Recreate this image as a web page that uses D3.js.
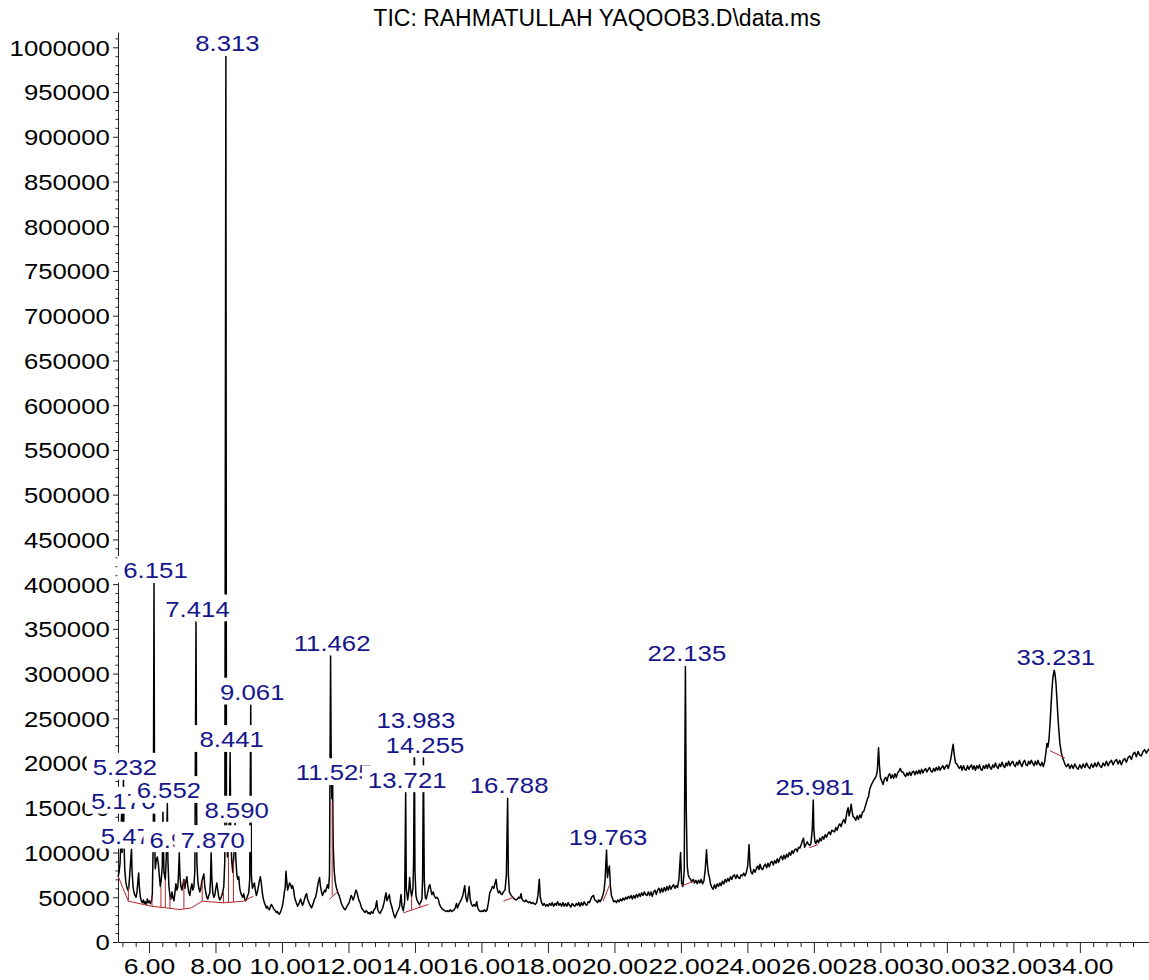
<!DOCTYPE html>
<html>
<head>
<meta charset="utf-8">
<script src="https://cdn.jsdelivr.net/npm/d3@7"></script>
<style>
  html, body { margin: 0; padding: 0; background: #fff; }
  svg { display: block; }
  text { font-family: "Liberation Sans", Arial, Helvetica, sans-serif; }
</style>
</head>
<body>
<svg id="chart" width="1149" height="980"></svg>
<script>
// ---- Chromatogram data (retention time in minutes, abundance in counts) ----
const chartTitle = "TIC: RAHMATULLAH YAQOOB3.D\\data.ms";

const traceEarly = [
  [5.07,73000],[5.10,78000],[5.13,88000],[5.15,110000],[5.176,143000],[5.19,100000],[5.21,120000],[5.232,181000],
  [5.25,110000],[5.27,82000],[5.30,68000],[5.33,62000],[5.36,58000],[5.39,60000],[5.42,75000],[5.45,92000],
  [5.474,104000],[5.49,80000],[5.52,62000],[5.55,55000],[5.58,52000],[5.61,50000],[5.64,56000],[5.67,70000],
  [5.69,77000],[5.71,62000],[5.74,50000],[5.77,46000],[5.80,44000],[5.83,47000],[5.86,43000],[5.89,45000],
  [5.92,42000],[5.95,48000],[5.98,44000],[6.01,46000],[6.04,43000],[6.07,45000],[6.10,52000],[6.13,120000],
  [6.151,401000],[6.17,110000],[6.19,82000],[6.22,92000],[6.25,95000],[6.28,88000],[6.31,75000],[6.34,62000],
  [6.37,70000],[6.40,85000],[6.42,145000],[6.45,78000],[6.49,70000],[6.52,95000],[6.552,155000],[6.57,90000],
  [6.60,62000],[6.63,52000],[6.66,48000],[6.69,56000],[6.72,50000],[6.75,46000],[6.78,55000],[6.81,65000],
  [6.84,58000],[6.87,62000],[6.89,78000],[6.911,100000],[6.93,75000],[6.96,62000],[6.99,58000],[7.02,64000],
  [7.05,70000],[7.08,60000],[7.11,68000],[7.14,73000],[7.17,62000],[7.20,55000],[7.23,52000],[7.26,60000],
  [7.29,65000],[7.32,58000],[7.35,62000],[7.38,80000],[7.414,358000],[7.44,90000],[7.47,68000],[7.50,60000],
  [7.53,56000],[7.56,60000],[7.59,68000],[7.62,72000],[7.65,76000],[7.68,62000],[7.71,55000],[7.74,50000],
  [7.77,48000],[7.80,52000],[7.83,55000],[7.85,70000],[7.870,100000],[7.89,72000],[7.92,55000],[7.95,50000],
  [7.98,52000],[8.01,60000],[8.04,66000],[8.07,58000],[8.10,50000],[8.13,47000],[8.16,49000],[8.19,52000],
  [8.22,56000],[8.25,62000],[8.28,90000],[8.313,990000],[8.33,140000],[8.36,95000],[8.39,110000],[8.42,140000],
  [8.441,212000],[8.46,120000],[8.49,90000],[8.52,78000],[8.55,95000],[8.57,110000],[8.590,133000],[8.61,95000],
  [8.64,76000],[8.67,70000],[8.70,73000],[8.73,60000],[8.76,55000],[8.79,52000],[8.82,50000],[8.85,54000],
  [8.88,48000],[8.91,46000],[8.94,49000],[8.97,52000],[9.00,55000],[9.03,70000],[9.061,265000],[9.08,75000],
  [9.11,60000],[9.14,63000],[9.17,66000],[9.20,58000],[9.23,52000],[9.26,56000],[9.29,62000],[9.32,68000],
  [9.35,73000],[9.38,65000],[9.41,55000],[9.44,48000],[9.47,44000],[9.50,41000],[9.53,38000],[9.56,40000],
  [9.59,37000],[9.62,36000],[9.65,39000],[9.68,42000],[9.71,40000],[9.74,38000],[9.77,36000],[9.80,35000],
  [9.83,33000],[9.86,34000],[9.89,32000],[9.92,31000],[9.95,33000],[9.98,36000],[10.01,40000],[10.04,46000],
  [10.07,55000],[10.10,62000],[10.12,79000],[10.14,70000],[10.17,58000],[10.20,62000],[10.23,66000],[10.26,64000],
  [10.29,60000],[10.32,63000],[10.35,58000],[10.38,50000],[10.41,46000],[10.44,43000],[10.47,40000],[10.50,42000],
  [10.53,45000],[10.56,48000],[10.59,44000],[10.62,41000],[10.65,44000],[10.68,48000],[10.71,52000],[10.74,54000],
  [10.77,48000],[10.80,45000],[10.83,42000],[10.86,40000],[10.89,38000],[10.92,41000],[10.95,44000],[10.98,48000],
  [11.01,50000],[11.04,55000],[11.07,62000],[11.10,68000],[11.13,72000],[11.16,62000],[11.19,56000],[11.22,52000],
  [11.25,55000],[11.28,58000],[11.31,56000],[11.34,60000],[11.37,64000],[11.40,60000],[11.43,75000],[11.462,320000],
  [11.48,210000],[11.50,160000],[11.525,175000],[11.54,110000],[11.57,80000],[11.60,68000],[11.63,62000],[11.66,58000],
  [11.69,54000],[11.72,52000],[11.75,48000],[11.78,44000],[11.81,41000],[11.84,39000],[11.87,37000],[11.90,36000],
  [11.93,38000],[11.96,40000],[11.99,42000],[12.02,44000],[12.05,48000],[12.08,52000],[12.11,50000],[12.14,47000],
  [12.17,50000],[12.20,55000],[12.23,58000],[12.26,55000],[12.29,50000],[12.32,46000],[12.35,44000],[12.38,40000],
  [12.41,37000],[12.44,36000],[12.47,34000],[12.50,33000],[12.53,35000],[12.56,34000],[12.59,32000],[12.62,33000]
];

const traceMid = [
  [12.65,31000],[12.69,34000],[12.73,32000],[12.77,36000],[12.81,38000],[12.85,46000],[12.88,36000],[12.92,33000],
  [12.95,32000],[12.99,35000],[13.03,38000],[13.07,44000],[13.10,50000],[13.13,55000],[13.16,46000],[13.20,50000],
  [13.23,53000],[13.26,45000],[13.30,40000],[13.34,34000],[13.37,30000],[13.40,27000],[13.43,30000],[13.47,34000],
  [13.50,36000],[13.54,40000],[13.58,53000],[13.61,40000],[13.65,35000],[13.69,45000],[13.721,167000],[13.74,60000],
  [13.78,47000],[13.81,55000],[13.84,72000],[13.87,58000],[13.90,51000],[13.94,60000],[13.96,90000],[13.983,234000],
  [14.00,80000],[14.03,52000],[14.06,47000],[14.10,44000],[14.13,42000],[14.17,44000],[14.21,48000],[14.23,70000],
  [14.255,206000],[14.28,70000],[14.31,50000],[14.34,48000],[14.38,55000],[14.42,62000],[14.45,64000],[14.48,58000],
  [14.51,53000],[14.55,56000],[14.58,52000],[14.62,49000],[14.66,50000],[14.70,48000],[14.74,42000],[14.78,39000],
  [14.82,37000],[14.86,36000],[14.90,35000],[14.94,34000],[14.98,35000],[15.02,34000],[15.06,36000],[15.10,34000],
  [15.14,35000],[15.18,36000],[15.21,38000],[15.25,43000],[15.28,38000],[15.32,42000],[15.36,45000],[15.40,48000],
  [15.44,52000],[15.47,58000],[15.50,63000],[15.53,50000],[15.57,45000],[15.60,52000],[15.63,62000],[15.66,48000],
  [15.70,42000],[15.74,40000],[15.78,42000],[15.82,40000],[15.86,45000],[15.89,38000],[15.93,35000],[15.97,34000],
  [16.01,35000],[16.05,34000],[16.09,36000],[16.13,34000],[16.17,36000],[16.21,44000],[16.25,55000],[16.29,58000],
  [16.33,62000],[16.37,60000],[16.41,66000],[16.44,70000],[16.47,60000],[16.51,55000],[16.55,57000],[16.58,54000],
  [16.62,53000],[16.66,56000],[16.71,58000],[16.75,75000],[16.788,161000],[16.81,75000],[16.84,56000],[16.88,53000],
  [16.92,51000],[16.96,49000],[17.00,48000],[17.04,47000],[17.08,48000],[17.12,50000],[17.16,49000],[17.19,54000],
  [17.22,48000],[17.26,46000],[17.30,45000],[17.34,47000],[17.38,45000],[17.42,44000],[17.46,45000],[17.50,43000],
  [17.54,44000],[17.58,43000],[17.62,42000],[17.66,44000],[17.70,52000],[17.74,70000],[17.77,50000],[17.81,44000],
  [17.85,41000],[17.89,43000],[17.93,40000],[17.97,42000],[18.01,40000],[18.05,43000],[18.09,41000],[18.13,44000],
  [18.17,40000],[18.21,43000],[18.25,41000],[18.29,45000],[18.33,41000],[18.37,43000],[18.41,40000],[18.45,44000],
  [18.49,40000],[18.53,43000],[18.57,40000],[18.61,44000],[18.65,41000],[18.69,39000],[18.73,43000],[18.77,41000],
  [18.81,40000],[18.85,43000],[18.89,41000],[18.93,44000],[18.97,40000],[19.01,44000],[19.05,41000],[19.09,45000],
  [19.13,42000],[19.17,41000],[19.21,45000],[19.25,44000],[19.29,48000],[19.33,51000],[19.37,52000],[19.41,47000],
  [19.45,46000],[19.49,44000],[19.53,47000],[19.57,45000],[19.61,48000],[19.65,52000],[19.69,58000],[19.72,70000],
  [19.763,103000],[19.79,72000],[19.82,80000],[19.85,85000],[19.88,62000],[19.91,52000],[19.94,49000],[19.98,45000],
  [20.02,46000],[20.06,44000],[20.10,47000],[20.14,45000],[20.18,48000],[20.22,46000],[20.26,49000],[20.30,47000],
  [20.34,50000],[20.38,48000],[20.42,51000],[20.46,49000],[20.50,52000],[20.54,48000],[20.58,52000],[20.62,49000],
  [20.66,53000],[20.70,50000],[20.74,54000],[20.78,51000],[20.82,55000],[20.86,52000],[20.90,56000],[20.94,53000],
  [20.98,52000],[21.02,56000]
];

const traceLate = [
  [21.06,52000],[21.10,56000],[21.14,51000],[21.18,56000],[21.22,58000],[21.26,53000],[21.30,58000],[21.34,60000],
  [21.38,55000],[21.42,60000],[21.46,56000],[21.50,61000],[21.54,57000],[21.58,62000],[21.62,58000],[21.66,63000],
  [21.70,59000],[21.74,62000],[21.78,64000],[21.82,60000],[21.86,63000],[21.90,61000],[21.94,70000],[21.99,100000],
  [22.02,66000],[22.06,62000],[22.10,80000],[22.135,308000],[22.16,150000],[22.19,85000],[22.22,75000],[22.25,72000],
  [22.29,70000],[22.33,67000],[22.37,70000],[22.41,66000],[22.45,69000],[22.49,65000],[22.53,69000],[22.57,66000],
  [22.61,70000],[22.65,65000],[22.69,68000],[22.73,80000],[22.77,103000],[22.80,85000],[22.83,76000],[22.86,72000],
  [22.89,65000],[22.93,61000],[22.97,59000],[23.01,64000],[23.05,60000],[23.09,65000],[23.13,62000],[23.17,66000],
  [23.21,63000],[23.25,68000],[23.29,65000],[23.33,70000],[23.37,67000],[23.41,71000],[23.45,68000],[23.49,73000],
  [23.53,70000],[23.57,74000],[23.61,75000],[23.65,71000],[23.69,75000],[23.73,72000],[23.77,71000],[23.81,75000],
  [23.85,74000],[23.89,77000],[23.93,74000],[23.97,78000],[24.01,85000],[24.05,109000],[24.08,85000],[24.11,78000],
  [24.15,76000],[24.19,81000],[24.23,78000],[24.27,82000],[24.31,85000],[24.35,81000],[24.38,87000],[24.42,82000],
  [24.46,81000],[24.50,85000],[24.54,87000],[24.58,83000],[24.62,88000],[24.66,84000],[24.70,89000],[24.74,90000],
  [24.78,86000],[24.82,91000],[24.86,88000],[24.90,93000],[24.94,89000],[24.98,94000],[25.02,96000],[25.06,92000],
  [25.10,97000],[25.14,93000],[25.18,98000],[25.22,95000],[25.26,100000],[25.30,97000],[25.34,102000],[25.38,99000],
  [25.42,103000],[25.46,104000],[25.50,101000],[25.54,106000],[25.58,105000],[25.62,109000],[25.66,114000],[25.69,116000],
  [25.72,106000],[25.76,109000],[25.80,112000],[25.84,109000],[25.88,108000],[25.91,110000],[25.95,125000],[25.981,159000],
  [26.00,125000],[26.03,112000],[26.06,110000],[26.10,114000],[26.14,111000],[26.18,116000],[26.22,113000],[26.26,118000],
  [26.30,115000],[26.34,120000],[26.38,117000],[26.42,121000],[26.46,123000],[26.50,120000],[26.54,125000],[26.58,124000],
  [26.62,123000],[26.66,128000],[26.70,125000],[26.74,130000],[26.78,132000],[26.82,129000],[26.86,134000],[26.90,137000],
  [26.94,133000],[26.98,142000],[27.01,148000],[27.03,150000],[27.06,141000],[27.09,146000],[27.12,154000],[27.15,146000],
  [27.18,140000],[27.22,139000],[27.26,136000],[27.30,141000],[27.34,137000],[27.38,142000],[27.42,139000],[27.46,145000],
  [27.50,146000],[27.54,151000],[27.58,156000],[27.61,160000],[27.64,162000],[27.68,171000],[27.72,175000],[27.76,178000],
  [27.80,181000],[27.84,183000],[27.88,186000],[27.91,192000],[27.945,217000],[27.97,198000],[28.00,184000],[28.04,180000],
  [28.08,176000],[28.12,182000],[28.16,184000],[28.20,180000],[28.24,186000],[28.28,188000],[28.32,183000],[28.36,187000],
  [28.40,183000],[28.44,188000],[28.48,184000],[28.52,189000],[28.56,191000],[28.60,194000],[28.64,190000],[28.68,190000],
  [28.72,187000],[28.76,185000],[28.80,189000],[28.84,186000],[28.88,190000],[28.92,186000],[28.96,190000],[29.00,191000],
  [29.04,187000],[29.08,191000],[29.12,188000],[29.16,192000],[29.20,188000],[29.24,193000],[29.28,189000],[29.32,192000],
  [29.36,194000],[29.40,190000],[29.44,193000],[29.48,195000],[29.52,191000],[29.56,190000],[29.60,194000],[29.64,191000],
  [29.68,195000],[29.72,192000],[29.76,196000],[29.80,192000],[29.84,195000],[29.88,197000],[29.92,193000],[29.96,196000],
  [30.00,198000],[30.04,194000],[30.08,199000],[30.12,205000],[30.16,215000],[30.19,221000],[30.22,210000],[30.26,200000],
  [30.30,199000],[30.34,196000],[30.38,194000],[30.42,197000],[30.46,192000],[30.50,197000],[30.54,193000],[30.58,192000],
  [30.62,197000],[30.66,193000],[30.70,196000],[30.74,198000],[30.78,193000],[30.82,197000],[30.86,192000],[30.90,197000],
  [30.94,194000],[30.98,198000],[31.02,193000],[31.06,192000],[31.10,197000],[31.14,194000],[31.18,198000],[31.22,194000],
  [31.26,199000],[31.30,195000],[31.34,193000],[31.38,198000],[31.42,195000],[31.46,200000],[31.50,196000],[31.54,194000],
  [31.58,199000],[31.62,196000],[31.66,201000],[31.70,197000],[31.74,195000],[31.78,200000],[31.82,197000],[31.86,202000],
  [31.90,197000],[31.94,200000],[31.98,202000],[32.02,198000],[32.06,196000],[32.10,201000],[32.14,198000],[32.18,203000],
  [32.22,199000],[32.26,196000],[32.30,201000],[32.34,203000],[32.38,198000],[32.42,197000],[32.46,202000],[32.50,199000],
  [32.54,203000],[32.58,200000],[32.62,197000],[32.66,202000],[32.70,198000],[32.74,203000],[32.78,199000],[32.82,197000],
  [32.86,201000],[32.90,196000],[32.94,201000],[32.98,212000],[33.01,222000],[33.04,218000],[33.07,226000],[33.10,242000],
  [33.13,262000],[33.16,282000],[33.19,296000],[33.231,304000],[33.25,300000],[33.28,290000],[33.31,272000],[33.34,252000],
  [33.37,236000],[33.40,222000],[33.44,212000],[33.48,206000],[33.52,202000],[33.56,198000],[33.60,196000],[33.65,199000],
  [33.70,194000],[33.75,198000],[33.80,194000],[33.85,199000],[33.90,195000],[33.95,193000],[34.00,198000],[34.05,194000],
  [34.10,199000],[34.15,195000],[34.20,200000],[34.25,196000],[34.30,194000],[34.35,199000],[34.40,195000],[34.45,200000],
  [34.50,196000],[34.55,201000],[34.60,197000],[34.65,195000],[34.70,200000],[34.75,197000],[34.80,202000],[34.85,197000],
  [34.90,201000],[34.95,203000],[35.00,198000],[35.05,202000],[35.10,204000],[35.15,199000],[35.20,203000],[35.25,198000],
  [35.30,203000],[35.35,205000],[35.40,201000],[35.45,206000],[35.50,208000],[35.55,204000],[35.60,210000],[35.65,212000],
  [35.70,207000],[35.75,213000],[35.80,209000],[35.85,208000],[35.90,213000],[35.95,215000],[36.00,211000],[36.08,216000]
];

// Labelled peaks: retention time and apex abundance
const peakRT   = [5.176, 5.232, 5.474, 6.151, 6.552, 6.911, 7.414, 7.870, 8.313, 8.441, 8.590, 9.061,
                  11.462, 11.525, 13.721, 13.983, 14.255, 16.788, 19.763, 22.135, 25.981, 33.231];
const peakApex = [143000, 181000, 104000, 401000, 155000, 100000, 358000, 100000, 990000, 212000, 133000, 265000,
                  320000, 175000, 167000, 234000, 206000, 161000, 103000, 308000, 159000, 304000];

// Integration baselines (polylines) and peak drop lines [rt, from, to]
const integrationBaselines = [
  [[5.07,73600],[5.38,45600],[6.08,40000],[6.49,38200],[6.93,36300],[7.28,38200],[7.60,45600],[8.24,43800],[8.84,45600],[9.14,51200]],
  [[11.42,47500],[11.69,56800]],
  [[13.65,32600],[14.40,41900]],
  [[16.66,45600],[16.96,50000]],
  [[19.66,45600],[19.86,64200]],
  [[22.02,62400],[22.37,68000]],
  [[25.86,105300],[26.13,109000]],
  [[33.10,213900],[33.55,205700]]
];
const dropLines = [
  [5.38,45600,62000],[6.09,40000,53000],[6.36,38500,62000],[6.49,38200,70000],[6.63,37800,52000],
  [7.05,36800,70000],[7.60,45600,68000],[8.24,43800,56000],[8.39,44000,110000],[8.54,44500,90000],
  [11.51,52000,157000],[13.90,36000,51000],[14.15,39000,43000]
];

// Axis ticks
const xMajorTicks = [6, 8, 10, 12, 14, 16, 18, 20, 22, 24, 26, 28, 30, 32, 34];
const yMajorTicks = [0, 50000, 100000, 150000, 200000, 250000, 300000, 350000, 400000, 450000, 500000,
                     550000, 600000, 650000, 700000, 750000, 800000, 850000, 900000, 950000, 1000000];

// ---- Drawing ----
const W = 1149, H = 980;
const STRETCH = 1.17;           // wide glyph rendering of the report font
const X_STRETCH = 1.2;
const NAVY = "#16168c";
const RED = "#b0262a";

const svg = d3.select("#chart");
svg.append("rect").attr("width", W).attr("height", H).attr("fill", "#fff");

const x = d3.scaleLinear().domain([5.068, 36.08]).range([118, 1149]);
const y = d3.scaleLinear().domain([0, 1017000]).range([942, 32.1]);

// Title
svg.append("text")
  .attr("x", 597).attr("y", 26)
  .attr("text-anchor", "middle")
  .attr("font-size", 23)
  .attr("fill", "#000")
  .text(chartTitle);

// X axis: minor ticks every 0.4 min, major every 2 min
const xMinor = d3.range(5.2, 36.05, 0.4).filter(v => Math.abs(v / 2 - Math.round(v / 2)) > 1e-6);
svg.append("g")
  .attr("transform", "translate(0,942)")
  .call(d3.axisBottom(x).tickValues(xMinor).tickSize(5).tickSizeOuter(0).tickFormat(""))
  .call(g => g.selectAll("line,path").attr("stroke", "#222"));

svg.append("g")
  .attr("transform", "translate(0,942)")
  .call(d3.axisBottom(x).tickValues(xMajorTicks).tickSize(11).tickSizeOuter(0).tickFormat(d3.format(".2f")))
  .call(g => g.select(".domain").remove())
  .call(g => g.selectAll("line").attr("stroke", "#222"))
  .call(g => g.selectAll("text")
      .attr("y", 32).attr("dy", 0)
      .attr("font-size", 22)
      .attr("font-family", "Liberation Sans, Arial, sans-serif")
      .attr("fill", "#000")
      .attr("transform", `scale(${X_STRETCH},1)`));

// Y axis: minor ticks every 10000, major every 50000
const yMinor = d3.range(10000, 1010001, 10000).filter(v => v % 50000 !== 0);
svg.append("g")
  .attr("transform", "translate(118,0)")
  .call(d3.axisLeft(y).tickValues(yMinor).tickSize(2.5).tickSizeOuter(0).tickFormat(""))
  .call(g => g.selectAll("line,path").attr("stroke", "#222"));

svg.append("g")
  .attr("transform", "translate(118,0)")
  .call(d3.axisLeft(y).tickValues(yMajorTicks).tickSize(5).tickPadding(2).tickSizeOuter(0).tickFormat(d3.format("d")))
  .call(g => g.select(".domain").remove())
  .call(g => g.selectAll("line").attr("stroke", "#222"))
  .call(g => g.selectAll("text")
      .attr("dy", "0.36em")
      .attr("font-size", 22)
      .attr("font-family", "Liberation Sans, Arial, sans-serif")
      .attr("fill", "#000")
      .attr("transform", `scale(${STRETCH},1)`));

// Total ion chromatogram trace
const trace = [...traceEarly, ...traceMid, ...traceLate];
const line = d3.line().x(d => x(d[0])).y(d => y(d[1]));
svg.append("path")
  .datum(trace)
  .attr("d", line)
  .attr("fill", "none")
  .attr("stroke", "#000")
  .attr("stroke-width", 1.5)
  .attr("stroke-linejoin", "round");

// Integration events
svg.append("g").selectAll("path")
  .data(integrationBaselines)
  .join("path")
  .attr("d", line)
  .attr("fill", "none")
  .attr("stroke", RED)
  .attr("stroke-width", 1);

svg.append("g").selectAll("line")
  .data(dropLines)
  .join("line")
  .attr("x1", d => x(d[0])).attr("x2", d => x(d[0]))
  .attr("y1", d => y(d[1])).attr("y2", d => y(d[2]))
  .attr("stroke", RED)
  .attr("stroke-width", 1);

// Retention-time labels on white plates, later peaks drawn over earlier ones
const labels = svg.append("g");
peakRT.forEach((rt, i) => {
  const g = labels.append("g")
    .attr("transform", `translate(${x(rt) + 1.5},${y(peakApex[i]) - 5}) scale(${STRETCH},1)`);
  const plate = g.append("rect").attr("fill", "#fff");
  const t = g.append("text")
    .attr("text-anchor", "middle")
    .attr("font-size", 22)
    .attr("fill", NAVY)
    .text(rt.toFixed(3));
  const bb = t.node().getBBox();
  plate.attr("x", bb.x - 6 / STRETCH)
       .attr("y", bb.y - 2)
       .attr("width", bb.width + 12 / STRETCH)
       .attr("height", bb.height + 2);
});
</script>
</body>
</html>
